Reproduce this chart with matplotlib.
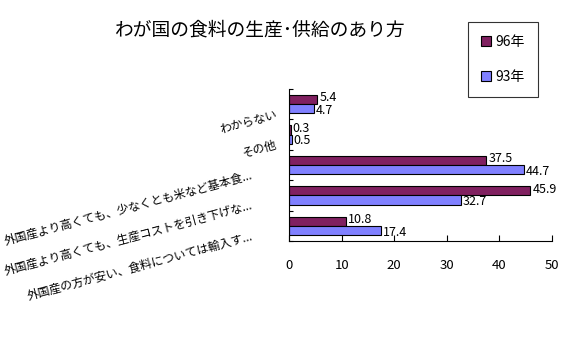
import numpy as np
import matplotlib
matplotlib.use('Agg')
from matplotlib import pyplot as plt
from matplotlib.transforms import ScaledTranslation

plt.rcParams['font.family'] = ['Noto Sans CJK JP', 'DejaVu Sans']

# categories, top to bottom
categories = ['わからない',
              'その他',
              '外国産より高くても、少なくとも米など基本食...',
              '外国産より高くても、生産コストを引き下げな...',
              '外国産の方が安い、食料については輸入す...']
values_96 = [5.4, 0.3, 37.5, 45.9, 10.8]
values_93 = [4.7, 0.5, 44.7, 32.7, 17.4]
series_names = ['96年', '93年']
xticks = [0, 10, 20, 30, 40, 50]

col96 = '#802060'
col93 = '#8080FF'

fig = plt.figure(figsize=(5.66, 3.46), dpi=100)
ax = fig.add_axes([0.5106, 0.3035, 0.4647, 0.4393])

pos = np.arange(len(categories))
h = 0.3
b1 = ax.barh(pos - h/2, values_96, h, color=col96, edgecolor='black', linewidth=0.8)
b2 = ax.barh(pos + h/2, values_93, h, color=col93, edgecolor='black', linewidth=0.8)

# value labels next to bar ends, nudged apart a little
for bars, vals, dy in ((b1, values_96, 1.2), (b2, values_93, -1.2)):
	for r, v in zip(bars, vals):
		ax.annotate(str(v), (r.get_width(), r.get_y() + r.get_height()/2),
			xytext=(1.5, dy), textcoords='offset points',
			ha='left', va='center', fontsize=9)

ax.set_ylim(len(categories) - 0.5, -0.5)
ax.set_xlim(0, 50)
ax.set_xticks(xticks)
ax.set_xticklabels([str(t) for t in xticks], fontsize=9.5)
ax.set_yticks(np.arange(len(categories) + 1) - 0.5, minor=False)
ax.set_yticklabels([])
ax.tick_params(axis='y', direction='in', length=3, width=0.8)
ax.tick_params(axis='x', direction='in', length=4, width=0.8, pad=13)

# rotated category labels
for i, name in enumerate(categories):
	dx = -12 if len(name) < 8 else -37
	t = ax.text(0, i, name, fontsize=8.5, rotation=15, ha='right', va='center',
		rotation_mode='anchor', transform=ax.get_yaxis_transform())
	t.set_transform(ax.get_yaxis_transform() + ScaledTranslation(dx/100, -10/100, fig.dpi_scale_trans))

for s in ('top', 'right'):
	ax.spines[s].set_visible(False)
for s in ('left', 'bottom'):
	ax.spines[s].set_linewidth(0.8)

fig.text(0.46, 0.914, 'わが国の食料の生産･供給のあり方', ha='center', va='center', fontsize=13.5)

leg = fig.legend([b1, b2], series_names, loc='upper left',
	bbox_to_anchor=(468/566, 1 - 22/346), fontsize=10, frameon=True,
	fancybox=False, edgecolor='black', handlelength=0.7, handleheight=0.7,
	handletextpad=0.3, labelspacing=1.5, borderpad=0.95, borderaxespad=0)
leg.get_frame().set_linewidth(0.8)

fig.savefig('out.png', dpi=100)
